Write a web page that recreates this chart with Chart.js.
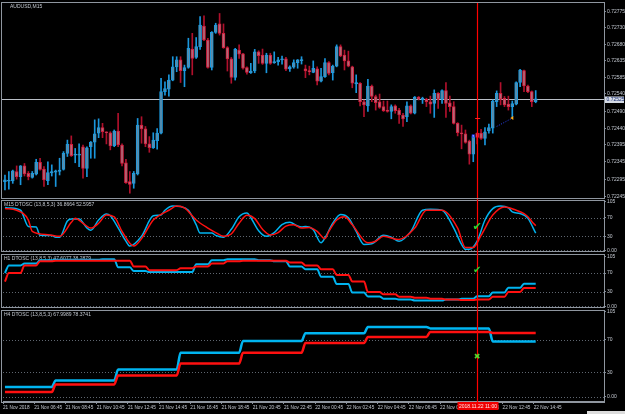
<!DOCTYPE html>
<html>
<head>
<meta charset="utf-8">
<title>AUDUSD,M15</title>
<script src="https://cdn.jsdelivr.net/npm/chart.js@4.4.1/dist/chart.umd.min.js"></script>
<style>
  body { margin: 0; background: #000; overflow: hidden; }
  #terminal { position: relative; width: 625px; height: 414px; background: #000; overflow: hidden; }
  #terminal canvas { position: absolute; left: 0; }
  #status-bar { position: absolute; left: 587px; top: 411px; width: 38px; height: 3px; background: #dcdcdc; }
</style>
</head>
<body>
<div id="terminal">
  <canvas id="price-chart" width="625" height="212" style="top:-10px"></canvas>
  <canvas id="m15-chart" width="625" height="70" style="top:190px"></canvas>
  <canvas id="h1-chart" width="625" height="70" style="top:245px"></canvas>
  <canvas id="h4-chart" width="625" height="114" style="top:300px"></canvas>
  <div id="status-bar"></div>
</div>
<script>
// ---- values ----
const symbolTitle = 'AUDUSD,M15';
const priceTicks = [0.72775, 0.72730, 0.72680, 0.72635, 0.72585, 0.72540, 0.72490, 0.72440, 0.72395, 0.72345, 0.72295, 0.72245];
const bidPrice = 0.72525;
const cursorBar = 121;
const cursorLabel = '2018.11.22 11:00';
const timeTickBars = [0, 8, 16, 24, 32, 40, 48, 56, 64, 72, 80, 88, 96, 104, 112, 120, 128, 136];
const timeLabels = ['21 Nov 2018', '21 Nov 06:45', '21 Nov 08:45', '21 Nov 10:45', '21 Nov 12:45', '21 Nov 14:45',
  '21 Nov 16:45', '21 Nov 18:45', '21 Nov 20:45', '21 Nov 22:45', '22 Nov 00:45', '22 Nov 02:45',
  '22 Nov 04:45', '22 Nov 06:45', '22 Nov 08:45', '22 Nov 10:45', '22 Nov 12:45', '22 Nov 14:45'];

// M15 candles, one entry per bar
const openPrices = [
  0.72288,0.72289,0.72290,0.72317,0.72302,0.72333,0.72312,0.72300,0.72309,0.72343,
  0.72324,0.72291,0.72313,0.72315,0.72317,0.72323,0.72369,0.72395,0.72364,0.72364,
  0.72388,0.72326,0.72388,0.72401,0.72427,0.72443,0.72430,0.72428,0.72391,0.72433,
  0.72393,0.72342,0.72288,0.72283,0.72310,0.72450,0.72439,0.72396,0.72385,0.72405,
  0.72427,0.72546,0.72553,0.72579,0.72617,0.72637,0.72606,0.72615,0.72668,0.72644,
  0.72675,0.72734,0.72694,0.72615,0.72716,0.72740,0.72713,0.72672,0.72640,0.72587,
  0.72665,0.72654,0.72615,0.72600,0.72605,0.72660,0.72651,0.72627,0.72651,0.72629,
  0.72632,0.72637,0.72640,0.72611,0.72616,0.72629,0.72635,0.72611,0.72606,0.72601,
  0.72611,0.72576,0.72589,0.72629,0.72600,0.72619,0.72675,0.72651,0.72634,0.72617,
  0.72568,0.72570,0.72517,0.72505,0.72562,0.72532,0.72517,0.72503,0.72493,0.72489,
  0.72505,0.72493,0.72479,0.72474,0.72505,0.72484,0.72530,0.72522,0.72524,0.72517,
  0.72512,0.72541,0.72524,0.72549,0.72514,0.72503,0.72455,0.72428,0.72425,0.72404,
  0.72367,0.72427,0.72427,0.72412,0.72433,0.72441,0.72517,0.72541,0.72527,0.72510,
  0.72503,0.72510,0.72572,0.72606,0.72562,0.72546,0.72517];
const highPrices = [
  0.72307,0.72317,0.72321,0.72333,0.72334,0.72340,0.72317,0.72317,0.72352,0.72355,
  0.72331,0.72345,0.72336,0.72321,0.72355,0.72374,0.72407,0.72419,0.72383,0.72396,
  0.72393,0.72388,0.72403,0.72465,0.72468,0.72455,0.72431,0.72431,0.72436,0.72484,
  0.72396,0.72352,0.72317,0.72317,0.72469,0.72474,0.72446,0.72417,0.72428,0.72440,
  0.72584,0.72574,0.72594,0.72646,0.72646,0.72646,0.72622,0.72699,0.72713,0.72701,
  0.72761,0.72763,0.72699,0.72718,0.72742,0.72770,0.72740,0.72675,0.72644,0.72670,
  0.72680,0.72656,0.72617,0.72627,0.72667,0.72663,0.72668,0.72656,0.72656,0.72660,
  0.72644,0.72648,0.72644,0.72620,0.72637,0.72638,0.72646,0.72622,0.72619,0.72634,
  0.72617,0.72613,0.72641,0.72632,0.72622,0.72680,0.72680,0.72665,0.72662,0.72619,
  0.72594,0.72572,0.72522,0.72581,0.72565,0.72536,0.72539,0.72519,0.72519,0.72508,
  0.72508,0.72498,0.72484,0.72517,0.72508,0.72532,0.72532,0.72530,0.72527,0.72533,
  0.72551,0.72543,0.72551,0.72572,0.72533,0.72517,0.72457,0.72450,0.72436,0.72407,
  0.72419,0.72428,0.72438,0.72443,0.72453,0.72522,0.72548,0.72572,0.72532,0.72533,
  0.72519,0.72574,0.72610,0.72608,0.72565,0.72548,0.72549];
const lowPrices = [
  0.72264,0.72266,0.72283,0.72295,0.72279,0.72304,0.72293,0.72298,0.72307,0.72321,
  0.72274,0.72279,0.72304,0.72274,0.72307,0.72321,0.72360,0.72360,0.72342,0.72331,
  0.72298,0.72302,0.72355,0.72355,0.72414,0.72414,0.72396,0.72379,0.72388,0.72388,
  0.72333,0.72283,0.72255,0.72269,0.72307,0.72398,0.72388,0.72372,0.72383,0.72381,
  0.72425,0.72536,0.72533,0.72577,0.72603,0.72572,0.72560,0.72613,0.72594,0.72641,
  0.72667,0.72692,0.72613,0.72608,0.72713,0.72708,0.72670,0.72605,0.72570,0.72579,
  0.72641,0.72610,0.72596,0.72598,0.72600,0.72627,0.72624,0.72600,0.72624,0.72627,
  0.72622,0.72625,0.72606,0.72604,0.72613,0.72613,0.72625,0.72586,0.72594,0.72600,
  0.72565,0.72574,0.72587,0.72594,0.72579,0.72617,0.72646,0.72608,0.72617,0.72557,
  0.72543,0.72505,0.72474,0.72489,0.72517,0.72493,0.72498,0.72489,0.72487,0.72468,
  0.72484,0.72455,0.72446,0.72460,0.72482,0.72482,0.72522,0.72512,0.72503,0.72484,
  0.72472,0.72498,0.72512,0.72472,0.72489,0.72453,0.72419,0.72382,0.72398,0.72338,
  0.72345,0.72396,0.72409,0.72393,0.72427,0.72427,0.72503,0.72508,0.72503,0.72493,
  0.72474,0.72508,0.72560,0.72546,0.72543,0.72503,0.72514];
const closePrices = [
  0.72293,0.72292,0.72319,0.72302,0.72333,0.72310,0.72302,0.72312,0.72343,0.72323,
  0.72293,0.72314,0.72317,0.72319,0.72321,0.72369,0.72395,0.72362,0.72366,0.72367,
  0.72326,0.72385,0.72401,0.72425,0.72443,0.72431,0.72428,0.72390,0.72433,0.72393,
  0.72340,0.72285,0.72280,0.72312,0.72450,0.72439,0.72396,0.72385,0.72407,0.72427,
  0.72546,0.72555,0.72579,0.72617,0.72637,0.72606,0.72615,0.72670,0.72641,0.72675,
  0.72737,0.72694,0.72615,0.72716,0.72737,0.72713,0.72672,0.72640,0.72587,0.72667,
  0.72653,0.72613,0.72601,0.72605,0.72660,0.72649,0.72627,0.72651,0.72627,0.72632,
  0.72637,0.72638,0.72610,0.72617,0.72629,0.72637,0.72637,0.72605,0.72603,0.72613,
  0.72576,0.72589,0.72629,0.72598,0.72619,0.72675,0.72648,0.72634,0.72619,0.72570,
  0.72572,0.72517,0.72508,0.72562,0.72532,0.72514,0.72501,0.72491,0.72489,0.72503,
  0.72491,0.72479,0.72468,0.72505,0.72484,0.72530,0.72525,0.72527,0.72517,0.72510,
  0.72541,0.72524,0.72549,0.72512,0.72503,0.72455,0.72428,0.72425,0.72400,0.72367,
  0.72417,0.72415,0.72412,0.72431,0.72443,0.72519,0.72541,0.72524,0.72508,0.72503,
  0.72512,0.72572,0.72608,0.72562,0.72546,0.72517,0.72525];

// M15 DTOSC readings (bar index -> value)
const m15FastBars = [0,1,4,6,8,9,12,13,14,16,17,19,21,22,24,26,27,29,31,32,35,38,40,41,43,45,47,49,50,53,54,56,58,60,62,63,65,67,69,71,73,75,76,77,79,81,82,84,86,88,90,92,94,97,99,101,104,107,109,112,115,117,118,119,121,123,125,127,129,130,132,134,136];
const m15Fast = [92,91,86,51,50,32,31.5,28,28,63,67,67,48,43,65,78,74,48,19.5,9,30,74,76,86,95,94,86,55,37,37,32,28,45,72,80,70,42,30,38,55,60,52,50,51,44,16,26.6,58,77,70,40.5,12.6,14,32,28,19.5,40.5,86,88,86,47.6,12.6,2,2,19.5,65,89.6,95,91,82.6,79,68.6,36.9];
const m15SlowBars = [0,3,6,7,11,14,17,18,20,22,24,26,28,30,33,35,38,40,42,44,46,49,52,54,56,58,60,62,64,66,68,70,72,74,76,78,80,82,83,85,87,89,93,95,97,101,105,108,112,116,118,120,122,125,128,131,133,134,135,136];
const m15Slow = [89.6,86,65,40.5,33.6,30,60,68.6,58,47.6,58,75.6,72,40.5,9,25,65,77,86,95,91,65,47.6,38,30,35,58,75,68,45,33,38,52,55,47.6,49,40.5,25,40.5,65,72,54.6,16,19.5,30,23,47.6,86,86,47.6,5.7,5.7,32,75.6,93,86,79,72,62,52.6];

// H1 DTOSC, one value per hour (hour 0 = bar 0, then 4 bars per hour)
const h1Fast = [70,86,90,97,98,98,98,99,82,74,72,72,72,88.5,97,99,99,97,95,84,78,62,47,29,20.6,16,14,12,12,14,16,21,29,39,47.6];
const h1Slow = [52,70,86,95,96,96,96,96,96,84,76,76,80,84,90,95,96,96,96,92,86,78,66,52,30,25,20,18,16,14,13,14,20,30,38.3];

// H4 DTOSC, one value per 4 hour block
const h4StartBars = [0, 13, 29, 45, 61, 77, 93, 109, 125];
const h4Fast = [12, 20, 33.5, 54, 68.6, 78, 85.6, 84, 68];
const h4Slow = [5.7, 15, 26, 40.7, 54, 66, 73.5, 79.7, 78.4];

const oscTicks = [105, 70, 30, 0];
const oscLevels = [70, 30, 0];

// ---- look ----
const FONT = {family: 'Liberation Sans', size: 5};
const TIME_FONT = {family: 'Liberation Sans', size: 4.7};
const AXIS_TEXT = '#c3c8d0';
const FRAME = '#8f969f';
const CYAN = '#00b4f0';
const RED = '#ff1010';
const CURSOR = '#ff0000';

const bars = openPrices.map((o, i) => i);

// frame, levels, title, cursor and marks for every panel
const panelPlugin = {
  id: 'panel',
  beforeDatasetsDraw(chart, args, opts) {
    const {ctx, chartArea: a} = chart;
    const y = chart.scales.y;
    ctx.save();
    ctx.strokeStyle = FRAME;
    ctx.lineWidth = 1;
    ctx.strokeRect(1.5, Math.round(a.top) - 0.5, Math.round(a.right) - 1, Math.round(a.bottom - a.top) + 1);
    if (opts.levels) {
      ctx.strokeStyle = '#5f6670';
      ctx.setLineDash([1, 2]);
      ctx.beginPath();
      opts.levels.forEach(v => {
        const py = Math.round(y.getPixelForValue(v)) + 0.5;
        ctx.moveTo(a.left, py);
        ctx.lineTo(a.right, py);
      });
      ctx.stroke();
      ctx.setLineDash([]);
    }
    if (opts.bid) {
      const by = Math.round(y.getPixelForValue(opts.bid)) + 0.5;
      ctx.strokeStyle = '#b9bec6';
      ctx.beginPath();
      ctx.moveTo(a.left - 1, by);
      ctx.lineTo(a.right, by);
      ctx.stroke();
    }
    ctx.fillStyle = AXIS_TEXT;
    ctx.font = '5px "Liberation Sans"';
    ctx.textBaseline = 'middle';
    ctx.textAlign = 'left';
    ctx.fillText(opts.title, a.left + (opts.titleX || 1), a.top + 4);
    ctx.restore();
  },
  afterDatasetsDraw(chart, args, opts) {
    const {ctx, chartArea: a} = chart;
    const x = chart.scales.x, y = chart.scales.y;
    ctx.save();
    const cx = Math.round(x.getPixelForValue(cursorBar)) + 0.5;
    ctx.strokeStyle = CURSOR;
    ctx.lineWidth = 1.2;
    ctx.beginPath();
    ctx.moveTo(cx, a.top - (opts.cursorUp || 0));
    ctx.lineTo(cx, a.bottom + (opts.cursorDown || 0));
    ctx.stroke();
    (opts.marks || []).forEach(m => {
      ctx.fillStyle = m.color;
      ctx.font = m.size + 'px "DejaVu Sans"';
      ctx.textAlign = 'center';
      ctx.textBaseline = 'middle';
      ctx.fillText(m.text, x.getPixelForValue(m.bar), y.getPixelForValue(m.value));
    });
    ctx.restore();
  },
  afterDraw(chart, args, opts) {
    const {ctx, chartArea: a} = chart;
    const x = chart.scales.x, y = chart.scales.y;
    ctx.save();
    ctx.font = '5px "Liberation Sans"';
    ctx.textBaseline = 'middle';
    if (opts.bid) {
      // highlighted bid price on the price axis
      const by = Math.round(y.getPixelForValue(opts.bid)) + 0.5;
      ctx.fillStyle = '#d5dbe5';
      ctx.fillRect(a.right + 1, by - 3, 19, 6.5);
      ctx.fillStyle = '#14286e';
      ctx.textAlign = 'left';
      ctx.fillText(opts.bid.toFixed(5), a.right + 2.5, by + 0.3);
    }
    if (opts.cursorBox) {
      const cx = Math.round(x.getPixelForValue(cursorBar)) + 0.5;
      ctx.fillStyle = '#f00000';
      ctx.fillRect(cx - 20, a.bottom + 1, 41, 8);
      ctx.fillStyle = '#ffe8e8';
      ctx.textAlign = 'center';
      ctx.fillText(cursorLabel, cx + 0.5, a.bottom + 5.2);
    }
    ctx.restore();
  }
};

// little extras on the price window: window icon, shift marker, trade arrows
const priceExtras = {
  id: 'priceExtras',
  afterDatasetsDraw(chart) {
    const {ctx} = chart;
    const x = chart.scales.x, y = chart.scales.y;
    ctx.save();
    ctx.fillStyle = '#e0e0e0';
    ctx.beginPath();
    ctx.moveTo(4, 5.5); ctx.lineTo(7.5, 5.5); ctx.lineTo(5.75, 7.5); ctx.closePath();
    ctx.fill();
    const sx = x.getPixelForValue(138.3);
    ctx.fillStyle = '#f0f0f0';
    ctx.beginPath();
    ctx.moveTo(sx - 2.5, 2.5); ctx.lineTo(sx + 2.5, 2.5); ctx.lineTo(sx, 5); ctx.closePath();
    ctx.fill();
    // dotted order line with its arrows
    ctx.strokeStyle = '#2a44ff';
    ctx.setLineDash([1, 1.5]);
    ctx.beginPath();
    ctx.moveTo(x.getPixelForValue(126), y.getPixelForValue(0.72446));
    ctx.lineTo(x.getPixelForValue(130), y.getPixelForValue(0.72470));
    ctx.stroke();
    ctx.setLineDash([]);
    const ax = x.getPixelForValue(130), ay = y.getPixelForValue(0.72470);
    ctx.fillStyle = '#ffb020';
    ctx.beginPath();
    ctx.moveTo(ax - 2, ay); ctx.lineTo(ax + 1, ay - 2); ctx.lineTo(ax + 1, ay + 2); ctx.closePath();
    ctx.fill();
    const bx = x.getPixelForValue(120), byy = y.getPixelForValue(0.72419);
    ctx.fillStyle = '#2040ff';
    ctx.fillRect(bx - 1.5, byy - 1.5, 3, 3);
    ctx.fillStyle = '#ffffff';
    ctx.fillRect(bx - 0.5, byy - 0.5, 1, 1);
    const rx = x.getPixelForValue(cursorBar), ry = Math.round(y.getPixelForValue(0.72470)) + 0.5;
    ctx.strokeStyle = '#ff2020';
    ctx.beginPath();
    ctx.moveTo(rx - 2, ry); ctx.lineTo(rx + 3, ry);
    ctx.stroke();
    ctx.restore();
  }
};

function hiddenX() {
  return {type: 'linear', min: -0.5, max: 153.5, offset: false, display: false};
}

function rightAxis(min, max, tickValues, format) {
  return {
    position: 'right',
    min: min,
    max: max,
    bounds: 'data',
    afterBuildTicks: scale => { scale.ticks = tickValues.map(v => ({value: v})); },
    afterFit: scale => { scale.width = 21; },
    ticks: {font: FONT, color: AXIS_TEXT, padding: 1, callback: format},
    grid: {drawOnChartArea: false, tickLength: 2, color: '#7a8494'},
    border: {display: true, color: '#6c7888', width: 1}
  };
}

function oscFormat(v) {
  return v === 0 ? '0.00' : String(v);
}

function baseOptions(padding) {
  return {
    responsive: false,
    animation: false,
    devicePixelRatio: 1,
    events: [],
    layout: {padding: padding},
    plugins: {legend: {display: false}, tooltip: {enabled: false}}
  };
}

// Generate the price chart (candles as floating bars)
function GeneratePriceChart() {
  const up = bars.map(i => closePrices[i] >= openPrices[i]);
  const bodies = bars.map(i => ({x: i, y: [Math.min(openPrices[i], closePrices[i]), Math.max(openPrices[i], closePrices[i])]}));
  const wicks = bars.map(i => ({x: i, y: [lowPrices[i], highPrices[i]]}));
  const options = baseOptions({left: 3, right: 0, top: 13, bottom: 4});
  options.plugins.panel = {title: symbolTitle, titleX: 7, bid: bidPrice};
  options.scales = {
    x: hiddenX(),
    y: rightAxis(0.72241, 0.72800, priceTicks, v => Number(v).toFixed(5))
  };
  new Chart(document.getElementById('price-chart'), {
    type: 'bar',
    data: {
      datasets: [
        {
          data: bodies,
          order: 0,
          grouped: false,
          barThickness: 3,
          minBarLength: 1,
          borderWidth: 1,
          borderSkipped: false,
          backgroundColor: up.map(u => u ? '#5f8aa6' : '#b06a78'),
          borderColor: up.map(u => u ? '#1a9be0' : '#d41c3c')
        },
        {
          data: wicks,
          order: 1,
          grouped: false,
          barThickness: 1,
          borderWidth: 0,
          backgroundColor: up.map(u => u ? '#1a96dc' : '#b0102c')
        }
      ]
    },
    options: options,
    plugins: [panelPlugin, priceExtras]
  });
}

function oscLine(points, color, width, order) {
  return {
    type: 'line',
    data: points,
    borderColor: color,
    borderWidth: width,
    pointRadius: 0,
    order: order,
    tension: 0.3,
    cubicInterpolationMode: 'monotone'
  };
}

// Generate the M15 DTOSC window
function GenerateM15Chart() {
  const fast = m15FastBars.map((b, k) => ({x: b, y: m15Fast[k]}));
  const slow = m15SlowBars.map((b, k) => ({x: b, y: m15Slow[k]}));
  const options = baseOptions({left: 3, right: 0, top: 11, bottom: 9});
  options.plugins.panel = {
    title: 'M15 DTOSC (13,8,5,3) 36.8664 52.5957',
    levels: oscLevels, cursorUp: 2, cursorDown: 2,
    marks: [{bar: cursorBar, value: 50, text: '\u2714', size: 11, color: '#2fd42f'}]
  };
  options.scales = {x: hiddenX(), y: rightAxis(-1.6, 105.9, oscTicks, oscFormat)};
  new Chart(document.getElementById('m15-chart'), {
    type: 'line',
    data: {datasets: [oscLine(slow, RED, 1.5, 0), oscLine(fast, CYAN, 1.5, 1)]},
    options: options,
    plugins: [panelPlugin]
  });
}

// Generate the H1 DTOSC window
function GenerateH1Chart() {
  const hourOf = b => b === 0 ? 0 : Math.floor((b + 3) / 4);
  const fast = bars.map(b => ({x: b, y: h1Fast[hourOf(b)]}));
  const slow = bars.map(b => ({x: b, y: h1Slow[hourOf(b)]}));
  const options = baseOptions({left: 3, right: 0, top: 10, bottom: 8.5});
  options.plugins.panel = {
    title: 'H1 DTOSC (13,8,5,3) 47.6077 38.2879',
    levels: oscLevels, cursorUp: 2, cursorDown: 2,
    marks: [{bar: cursorBar, value: 76, text: '\u2714', size: 10, color: '#2fd42f'}]
  };
  options.scales = {x: hiddenX(), y: rightAxis(-0.6, 108, oscTicks, oscFormat)};
  const a = oscLine(slow, RED, 2, 0), b = oscLine(fast, CYAN, 2, 1);
  a.tension = b.tension = 0;
  new Chart(document.getElementById('h1-chart'), {
    type: 'line',
    data: {datasets: [a, b]},
    options: options,
    plugins: [panelPlugin]
  });
}

// Generate the H4 DTOSC window, with the time axis
function GenerateH4Chart() {
  const blockOf = b => {
    let k = 0;
    while (k + 1 < h4StartBars.length && h4StartBars[k + 1] <= b) k++;
    return k;
  };
  const fast = bars.map(b => ({x: b, y: h4Fast[blockOf(b)]}));
  const slow = bars.map(b => ({x: b, y: h4Slow[blockOf(b)]}));
  const options = baseOptions({left: 3, right: 0, top: 10.5, bottom: 0});
  options.plugins.panel = {
    title: 'H4 DTOSC (13,8,5,3) 67.9989 78.3741',
    levels: oscLevels, cursorUp: 2, cursorDown: 1, cursorBox: true,
    marks: [{bar: cursorBar, value: 49, text: '\u2716', size: 8, color: '#5cd82c'}]
  };
  options.scales = {
    x: {
      type: 'linear', min: -0.5, max: 153.5, offset: false,
      afterBuildTicks: scale => { scale.ticks = timeTickBars.map(b => ({value: b - 0.5})); },
      afterFit: scale => { scale.height = 13; },
      ticks: {font: TIME_FONT, color: AXIS_TEXT, align: 'start', padding: 1, maxRotation: 0, autoSkip: false,
        callback: (v, i) => timeLabels[i]},
      grid: {drawOnChartArea: false, tickLength: 3, color: '#8a94a0'},
      border: {display: true, color: FRAME}
    },
    y: rightAxis(-5.3, 106, oscTicks, oscFormat)
  };
  const a = oscLine(slow, RED, 2.5, 0), b = oscLine(fast, CYAN, 2.5, 1);
  a.tension = b.tension = 0;
  new Chart(document.getElementById('h4-chart'), {
    type: 'line',
    data: {datasets: [a, b]},
    options: options,
    plugins: [panelPlugin]
  });
}

GeneratePriceChart();
GenerateM15Chart();
GenerateH1Chart();
GenerateH4Chart();
</script>
</body>
</html>
